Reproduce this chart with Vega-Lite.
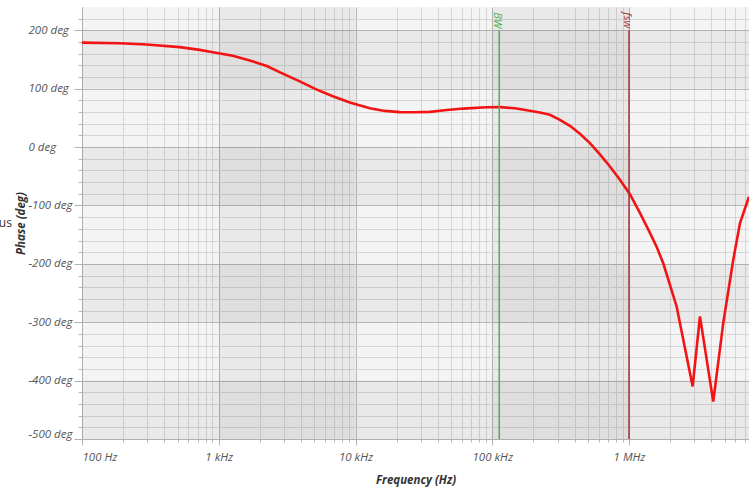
{
  "$schema": "https://vega.github.io/schema/vega-lite/v6.json",
  "width": 667,
  "height": 432,
  "autosize": {"type": "none"},
  "padding": {"left": 82, "top": 7, "right": 0, "bottom": 50},
  "background": "white",
  "config": {
    "view": {"stroke": null, "fill": "#f4f4f4"},
    "font": "Open Sans"
  },
  "title": {
    "text": "us",
    "orient": "left",
    "angle": 0,
    "anchor": "middle",
    "align": "right",
    "baseline": "middle",
    "offset": -10,
    "fontSize": 12,
    "fontWeight": "normal",
    "color": "#333333",
    "font": "Open Sans"
  },
  "resolve": {"axis": {"x": "independent", "y": "independent"}},
  "datasets": {
    "curve": [
      {"f": 100, "phase": 179},
      {"f": 189, "phase": 178},
      {"f": 296, "phase": 175.7},
      {"f": 518, "phase": 171.2},
      {"f": 726, "phase": 166.6},
      {"f": 904, "phase": 162.5},
      {"f": 1266, "phase": 156.5},
      {"f": 1686, "phase": 148.5},
      {"f": 2245, "phase": 139},
      {"f": 2939, "phase": 126},
      {"f": 3912, "phase": 112.5},
      {"f": 5212, "phase": 98.5},
      {"f": 6823, "phase": 87},
      {"f": 9085, "phase": 76.5},
      {"f": 12723, "phase": 66.5},
      {"f": 16380, "phase": 62},
      {"f": 21100, "phase": 60},
      {"f": 27160, "phase": 59.6},
      {"f": 34960, "phase": 60.4},
      {"f": 46550, "phase": 63.5},
      {"f": 61250, "phase": 66},
      {"f": 90850, "phase": 68.4},
      {"f": 113650, "phase": 68.5},
      {"f": 146300, "phase": 66.5},
      {"f": 188400, "phase": 62.3},
      {"f": 222900, "phase": 59.3},
      {"f": 263900, "phase": 55.3},
      {"f": 312300, "phase": 46.5},
      {"f": 369600, "phase": 36.4},
      {"f": 437400, "phase": 22.7},
      {"f": 517600, "phase": 6.8},
      {"f": 612600, "phase": -12.4},
      {"f": 725000, "phase": -33.3},
      {"f": 857800, "phase": -56},
      {"f": 1015000, "phase": -80.6},
      {"f": 1201000, "phase": -112.6},
      {"f": 1422000, "phase": -147},
      {"f": 1600000, "phase": -172},
      {"f": 1779000, "phase": -199},
      {"f": 2229000, "phase": -273},
      {"f": 2919000, "phase": -410},
      {"f": 3301000, "phase": -290},
      {"f": 4129000, "phase": -436},
      {"f": 4888000, "phase": -301},
      {"f": 5785000, "phase": -193},
      {"f": 6477000, "phase": -130},
      {"f": 7538000, "phase": -85}
    ],
    "xbands": [
      {"f1": 1000, "f2": 10000},
      {"f1": 100000, "f2": 1000000}
    ],
    "ybands": [
      {"p1": 100, "p2": 200},
      {"p1": -100, "p2": 0},
      {"p1": -300, "p2": -200},
      {"p1": -500, "p2": -400}
    ],
    "markers": [
      {"label": "BW", "f": 112500},
      {"label": "fsw", "f": 1000000}
    ]
  },
  "layer": [
    {
      "data": {"name": "xbands"},
      "mark": {"type": "rect", "color": "black", "opacity": 0.045},
      "encoding": {
        "x": {
          "field": "f1",
          "type": "quantitative",
          "scale": {"type": "log", "domain": [100, 7538000], "nice": false},
          "axis": {
            "orient": "bottom",
            "title": null,
            "labels": false,
            "domain": false,
            "values": [200, 300, 400, 500, 600, 700, 800, 900, 2000, 3000, 4000, 5000, 6000, 7000, 8000, 9000, 20000, 30000, 40000, 50000, 60000, 70000, 80000, 90000, 200000, 300000, 400000, 500000, 600000, 700000, 800000, 900000, 2000000, 3000000, 4000000, 5000000, 6000000, 7000000],
            "tickSize": 3,
            "tickColor": "#b8b8b8",
            "grid": true,
            "gridColor": "#d6d6d6",
            "gridWidth": 1
          }
        },
        "x2": {"field": "f2"}
      }
    },
    {
      "data": {"name": "ybands"},
      "mark": {"type": "rect", "color": "black", "opacity": 0.045},
      "encoding": {
        "y": {
          "field": "p1",
          "type": "quantitative",
          "scale": {"domain": [-500, 240], "nice": false, "zero": false},
          "axis": {
            "orient": "left",
            "title": null,
            "labels": false,
            "domain": false,
            "values": [-480, -460, -440, -420, -380, -360, -340, -320, -280, -260, -240, -220, -180, -160, -140, -120, -80, -60, -40, -20, 20, 40, 60, 80, 120, 140, 160, 180, 220],
            "tickSize": 4,
            "tickColor": "#b8b8b8",
            "grid": true,
            "gridColor": "#d6d6d6",
            "gridWidth": 1
          }
        },
        "y2": {"field": "p2"}
      }
    },
    {
      "data": {"name": "curve"},
      "mark": {"type": "line", "color": "#f21414", "strokeWidth": 2.6, "clip": true},
      "encoding": {
        "x": {
          "field": "f",
          "type": "quantitative",
          "scale": {"type": "log", "domain": [100, 7538000], "nice": false},
          "axis": {
            "orient": "bottom",
            "title": "Frequency (Hz)",
            "titleFont": "Open Sans",
            "titleFontSize": 11.5,
            "titleFontWeight": "bold",
            "titleFontStyle": "italic",
            "titleColor": "#333333",
            "titlePadding": 12,
            "values": [100, 1000, 10000, 100000, 1000000],
            "labelExpr": "datum.value == 100 ? '100 Hz' : datum.value == 1000 ? '1 kHz' : datum.value == 10000 ? '10 kHz' : datum.value == 100000 ? '100 kHz' : '1 MHz'",
            "labelFont": "Open Sans",
            "labelFontSize": 11.5,
            "labelFontStyle": "italic",
            "labelColor": "#555555",
            "labelFlush": false,
            "labelAlign": {"condition": {"test": "datum.value == 100", "value": "left"}, "value": "center"},
            "labelPadding": 6,
            "tickSize": 6,
            "tickColor": "#b0b0b0",
            "domainColor": "#b0b0b0",
            "grid": true,
            "gridColor": "#b8b8b8",
            "gridWidth": 1
          }
        },
        "y": {
          "field": "phase",
          "type": "quantitative",
          "scale": {"domain": [-500, 240], "nice": false, "zero": false},
          "axis": {
            "orient": "left",
            "title": "Phase (deg)",
            "titleFont": "Open Sans",
            "titleFontSize": 11.5,
            "titleFontWeight": "bold",
            "titleFontStyle": "italic",
            "titleColor": "#333333",
            "titlePadding": 2,
            "values": [-500, -400, -300, -200, -100, 0, 100, 200],
            "labelExpr": "datum.value + ' deg'",
            "labelFont": "Open Sans",
            "labelFontSize": 11.5,
            "labelFontStyle": "italic",
            "labelColor": "#555555",
            "labelAlign": "left",
            "labelBaseline": {"condition": {"test": "datum.value == -500", "value": "bottom"}, "value": "middle"},
            "labelPadding": 46,
            "labelFlush": false,
            "tickSize": 8,
            "tickColor": "#b0b0b0",
            "domainColor": "#b0b0b0",
            "grid": true,
            "gridColor": "#b8b8b8",
            "gridWidth": 1
          }
        }
      }
    },
    {
      "data": {"name": "markers"},
      "mark": {"type": "rule", "strokeWidth": 1.5},
      "encoding": {
        "x": {"field": "f", "type": "quantitative", "axis": null},
        "y": {"datum": 200, "axis": null},
        "y2": {"datum": -500},
        "color": {"field": "label", "type": "nominal", "scale": {"domain": ["BW", "fsw"], "range": ["#4caf50", "#a3303a"]}, "legend": null}
      }
    },
    {
      "data": {"name": "markers"},
      "mark": {"type": "text", "angle": 90, "align": "right", "baseline": "middle", "dx": -2, "dy": 2, "fontSize": 11, "fontStyle": "italic", "font": "Open Sans"},
      "encoding": {
        "x": {"field": "f", "type": "quantitative", "axis": null},
        "y": {"datum": 200, "axis": null},
        "text": {"field": "label"},
        "color": {"field": "label", "type": "nominal", "scale": {"domain": ["BW", "fsw"], "range": ["#4caf50", "#a3303a"]}, "legend": null}
      }
    }
  ]
}
